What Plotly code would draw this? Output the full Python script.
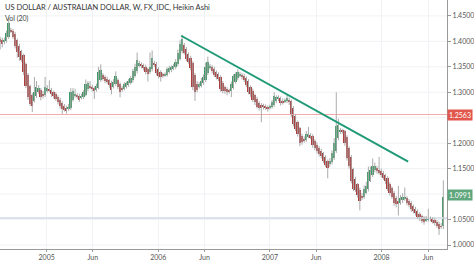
import pandas as pd
import plotly.graph_objects as go

# ---- data (weekly Heikin Ashi) ----
start_week = "2004-08-02"
ha_close = [
    1.399, 1.394, 1.403, 1.417, 1.436, 1.420, 1.408, 1.390, 1.380, 1.370,
    1.364, 1.339, 1.312, 1.290, 1.277, 1.273, 1.300, 1.310, 1.308, 1.290,
    1.292, 1.310, 1.308, 1.304, 1.296, 1.292, 1.286, 1.280, 1.273, 1.267,
    1.266, 1.263, 1.272, 1.300, 1.302, 1.295, 1.292, 1.285, 1.292, 1.300,
    1.316, 1.318, 1.310, 1.306, 1.302, 1.312, 1.340, 1.343, 1.327, 1.323,
    1.320, 1.314, 1.304, 1.320, 1.331, 1.310, 1.300, 1.305, 1.316, 1.318,
    1.322, 1.328, 1.341, 1.350, 1.364, 1.357, 1.352, 1.347, 1.340, 1.335,
    1.350, 1.368, 1.355, 1.337, 1.332, 1.330, 1.332, 1.336, 1.345, 1.347,
    1.349, 1.352, 1.360, 1.378, 1.394, 1.404, 1.378, 1.366, 1.360, 1.348,
    1.310, 1.300, 1.304, 1.316, 1.322, 1.330, 1.350, 1.360, 1.352, 1.342,
    1.334, 1.330, 1.326, 1.306, 1.302, 1.302, 1.300, 1.302, 1.316, 1.331,
    1.335, 1.339, 1.336, 1.330, 1.324, 1.315, 1.300, 1.296, 1.285, 1.280,
    1.272, 1.270, 1.270, 1.272, 1.270, 1.268, 1.272, 1.280, 1.292, 1.290,
    1.290, 1.279, 1.280, 1.284, 1.288, 1.280, 1.255, 1.238, 1.228, 1.218,
    1.200, 1.202, 1.205, 1.218, 1.218, 1.212, 1.196, 1.190, 1.185, 1.178,
    1.175, 1.165, 1.158, 1.152, 1.166, 1.180, 1.200, 1.234, 1.236, 1.225,
    1.222, 1.200, 1.170, 1.155, 1.125, 1.111, 1.108, 1.098, 1.086, 1.092,
    1.111, 1.116, 1.144, 1.148, 1.156, 1.156, 1.145, 1.142, 1.138, 1.132,
    1.125, 1.110, 1.102, 1.095, 1.082, 1.080, 1.080, 1.092, 1.094, 1.093,
    1.083, 1.078, 1.070, 1.066, 1.063, 1.055, 1.052, 1.047, 1.046, 1.051,
    1.053, 1.052, 1.046, 1.043, 1.038, 1.032, 1.036, 1.095,
]
first_open = 1.405
wick_up = [
    0.004, 0.005, 0.004, 0.004, 0.010, 0.004, 0.003, 0.004, 0.003, 0.004,
    0.003, 0.004, 0.003, 0.004, 0.003, 0.004, 0.030, 0.012, 0.006, 0.004,
    0.005, 0.020, 0.006, 0.018, 0.004, 0.003, 0.004, 0.003, 0.004, 0.003,
    0.004, 0.004, 0.005, 0.008, 0.006, 0.012, 0.004, 0.004, 0.005, 0.004,
    0.009, 0.004, 0.010, 0.004, 0.003, 0.005, 0.010, 0.012, 0.004, 0.003,
    0.004, 0.003, 0.004, 0.006, 0.010, 0.004, 0.003, 0.004, 0.004, 0.003,
    0.004, 0.004, 0.005, 0.006, 0.014, 0.005, 0.004, 0.003, 0.004, 0.003,
    0.028, 0.014, 0.005, 0.004, 0.003, 0.004, 0.004, 0.003, 0.004, 0.005,
    0.004, 0.004, 0.005, 0.006, 0.008, 0.009, 0.005, 0.004, 0.003, 0.004,
    0.003, 0.004, 0.005, 0.004, 0.006, 0.005, 0.008, 0.010, 0.004, 0.003,
    0.004, 0.003, 0.004, 0.003, 0.004, 0.003, 0.004, 0.004, 0.005, 0.004,
    0.004, 0.006, 0.004, 0.003, 0.004, 0.003, 0.004, 0.003, 0.004, 0.003,
    0.004, 0.003, 0.004, 0.005, 0.004, 0.003, 0.004, 0.005, 0.008, 0.004,
    0.004, 0.003, 0.004, 0.004, 0.008, 0.004, 0.003, 0.004, 0.003, 0.004,
    0.003, 0.004, 0.005, 0.006, 0.014, 0.005, 0.004, 0.003, 0.004, 0.003,
    0.004, 0.003, 0.004, 0.003, 0.005, 0.006, 0.010, 0.066, 0.012, 0.005,
    0.004, 0.003, 0.004, 0.003, 0.004, 0.003, 0.004, 0.003, 0.004, 0.005,
    0.006, 0.008, 0.010, 0.006, 0.014, 0.006, 0.004, 0.025, 0.005, 0.004,
    0.003, 0.004, 0.003, 0.004, 0.003, 0.004, 0.030, 0.006, 0.008, 0.020,
    0.004, 0.003, 0.004, 0.003, 0.004, 0.003, 0.004, 0.003, 0.005, 0.006,
    0.018, 0.004, 0.003, 0.004, 0.003, 0.004, 0.006, 0.032,
]
wick_dn = [
    0.015, 0.006, 0.004, 0.003, 0.004, 0.004, 0.003, 0.004, 0.012, 0.008,
    0.004, 0.005, 0.004, 0.005, 0.004, 0.012, 0.004, 0.003, 0.004, 0.006,
    0.004, 0.004, 0.003, 0.004, 0.005, 0.004, 0.003, 0.004, 0.005, 0.010,
    0.004, 0.005, 0.003, 0.004, 0.003, 0.004, 0.005, 0.004, 0.003, 0.004,
    0.003, 0.004, 0.004, 0.005, 0.015, 0.004, 0.003, 0.004, 0.004, 0.005,
    0.004, 0.005, 0.008, 0.004, 0.003, 0.004, 0.010, 0.004, 0.003, 0.004,
    0.004, 0.003, 0.004, 0.003, 0.004, 0.004, 0.005, 0.004, 0.005, 0.014,
    0.004, 0.004, 0.005, 0.004, 0.005, 0.009, 0.004, 0.003, 0.004, 0.003,
    0.004, 0.003, 0.004, 0.003, 0.004, 0.004, 0.004, 0.005, 0.004, 0.005,
    0.006, 0.017, 0.004, 0.003, 0.004, 0.003, 0.004, 0.003, 0.004, 0.005,
    0.004, 0.005, 0.004, 0.005, 0.004, 0.005, 0.006, 0.005, 0.012, 0.004,
    0.003, 0.004, 0.004, 0.005, 0.004, 0.005, 0.004, 0.005, 0.004, 0.005,
    0.004, 0.006, 0.029, 0.006, 0.005, 0.006, 0.004, 0.003, 0.004, 0.005,
    0.004, 0.005, 0.004, 0.003, 0.004, 0.005, 0.004, 0.005, 0.004, 0.005,
    0.006, 0.005, 0.004, 0.004, 0.003, 0.004, 0.005, 0.004, 0.005, 0.004,
    0.005, 0.004, 0.005, 0.021, 0.005, 0.004, 0.004, 0.005, 0.004, 0.005,
    0.004, 0.005, 0.004, 0.005, 0.004, 0.005, 0.004, 0.005, 0.018, 0.004,
    0.004, 0.003, 0.004, 0.003, 0.004, 0.004, 0.005, 0.004, 0.005, 0.004,
    0.005, 0.004, 0.005, 0.004, 0.005, 0.006, 0.022, 0.004, 0.005, 0.004,
    0.005, 0.004, 0.005, 0.004, 0.005, 0.004, 0.005, 0.004, 0.006, 0.004,
    0.004, 0.005, 0.004, 0.005, 0.004, 0.012, 0.004, 0.005,
]
y_ticks = [1.00, 1.05, 1.15, 1.20, 1.30, 1.35, 1.40, 1.45]
grid_levels = [1.00, 1.05, 1.10, 1.15, 1.20, 1.25, 1.30, 1.35, 1.40, 1.45]
x_tick_dates = ["2005-01-01", "2005-06-01", "2006-01-01", "2006-06-01",
                "2007-01-01", "2007-06-01", "2008-01-01", "2008-06-01"]
x_tick_text = ["2005", "Jun", "2006", "Jun", "2007", "Jun", "2008", "Jun"]
trend_dates = ["2006-03-17", "2008-03-28"]
trend_prices = [1.411, 1.1636]
red_level = 1.2563
grey_level = 1.053
last_price = 1.0991
title_text = "US DOLLAR / AUSTRALIAN DOLLAR, W, FX_IDC, Heikin Ashi"
vol_text = "Vol (20)"

# ---- derived ----
dates = pd.date_range(start_week, periods=len(ha_close), freq="W-MON")
ha_open = [first_open]
for i in range(1, len(ha_close)):
    ha_open.append((ha_open[i - 1] + ha_close[i - 1]) / 2)
body_hi = [max(o, c) for o, c in zip(ha_open, ha_close)]
body_lo = [min(o, c) for o, c in zip(ha_open, ha_close)]
highs = [b + w for b, w in zip(body_hi, wick_up)]
lows = [b - w for b, w in zip(body_lo, wick_dn)]

UP = "#3f9966"
DN = "#ad3c3c"
FONT = "Lato"
colors = [UP if c >= o else DN for o, c in zip(ha_open, ha_close)]
heights = [max(h - l, 0.0012) for h, l in zip(body_hi, body_lo)]

wx, wy = [], []
for d, lo, hi in zip(dates, lows, highs):
    wx += [d, d, None]
    wy += [lo, hi, None]

x_lo = pd.Timestamp("2004-06-01")
x_hi = pd.Timestamp("2008-10-01")
fig = go.Figure()
for g in grid_levels:
    fig.add_shape(type="line", xref="paper", x0=0, x1=1, yref="y", y0=g, y1=g,
                  line=dict(color="#f0f2f6", width=1), layer="below")
# horizontal levels
fig.add_trace(go.Scatter(x=[x_lo, x_hi], y=[red_level, red_level], mode="lines",
                         line=dict(color="#f6a9a9", width=1), hoverinfo="skip", showlegend=False))
fig.add_trace(go.Scatter(x=[x_lo, x_hi], y=[grey_level, grey_level], mode="lines",
                         line=dict(color="#dde3ea", width=2), hoverinfo="skip", showlegend=False))
# wicks
fig.add_trace(go.Scatter(x=wx, y=wy, mode="lines", line=dict(color="#ababab", width=1),
                         hoverinfo="skip", showlegend=False))
# bodies
fig.add_trace(go.Bar(x=dates, y=heights, base=body_lo, marker=dict(color=colors, line=dict(width=0)),
                     width=5.6 * 24 * 3600 * 1000, hoverinfo="skip", showlegend=False))
# trend line
fig.add_trace(go.Scatter(x=trend_dates, y=trend_prices, mode="lines",
                         line=dict(color="#1e9a76", width=2), hoverinfo="skip", showlegend=False))

fig.update_layout(
    width=474, height=261,
    margin=dict(l=0, r=23, t=0, b=10),
    paper_bgcolor="white", plot_bgcolor="white",
    font=dict(family=FONT, size=7, color="#555"),
    showlegend=False, bargap=0,
    xaxis=dict(type="date", range=["2004-08-01 12:00", "2008-08-02"],
               tickvals=x_tick_dates, ticktext=x_tick_text,
               ticks="outside", ticklen=2, tickcolor="#999",
               showgrid=True, gridcolor="#f0f2f6", gridwidth=1,
               showline=True, linecolor="#9a9a9a", linewidth=1,
               tickfont=dict(size=7, color="#555"), zeroline=False, fixedrange=True),
    yaxis=dict(side="right", range=[0.9922, 1.4812],
               tickvals=y_ticks, tickformat=".4f",
               ticks="outside", ticklen=3, tickcolor="#999",
               showgrid=False,
               showline=True, linecolor="#9a9a9a", linewidth=1,
               tickfont=dict(size=7, color="#555"), zeroline=False, fixedrange=True),
)

fig.add_annotation(xref="paper", yref="paper", x=0.006, y=0.968, xanchor="left", yanchor="middle",
                   text=title_text, showarrow=False,
                   font=dict(family=FONT, size=7.5, color="#333"))
fig.add_annotation(xref="paper", yref="paper", x=0.006, y=0.924, xanchor="left", yanchor="middle",
                   text=vol_text, showarrow=False,
                   font=dict(family=FONT, size=7, color="#444"))
fig.add_annotation(xref="paper", yref="y", x=1.0, y=red_level, xanchor="left", yanchor="middle",
                   text=f"{red_level:.4f}", showarrow=False, bgcolor="#e2574c",
                   borderpad=1, font=dict(family=FONT, size=7, color="white"))
fig.add_annotation(xref="paper", yref="y", x=1.0, y=last_price, xanchor="left", yanchor="middle",
                   text=f"{last_price:.4f}", showarrow=False, bgcolor="#5ea67c",
                   borderpad=1, font=dict(family=FONT, size=7, color="white"))

fig.write_html("out.html")
